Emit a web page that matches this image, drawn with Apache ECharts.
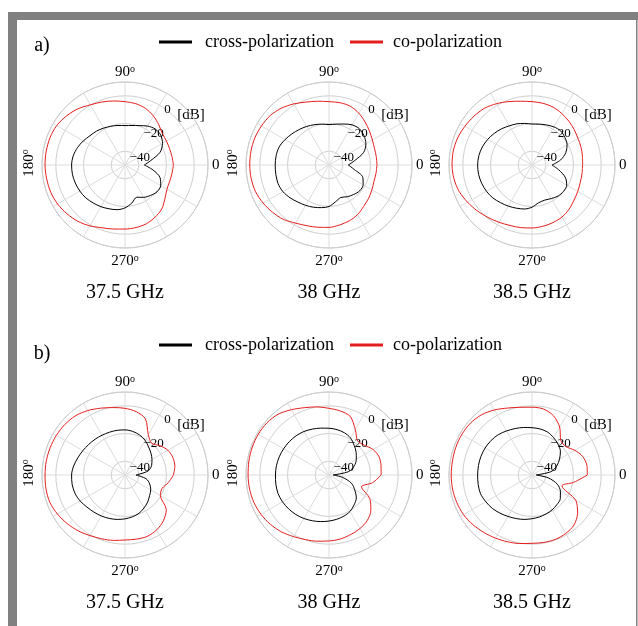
<!DOCTYPE html>
<html>
<head>
<meta charset="utf-8">
<title>Polarization patterns</title>
<script src="https://cdn.jsdelivr.net/npm/echarts@6/dist/echarts.min.js"></script>
</head>
<body style="margin:0;background:#fff">
<div id="main" style="width:638px;height:626px;"></div>
<script type="text/javascript">
// angle in degrees, values in dB
var angles = [0,10,20,30,40,50,60,70,80,90,100,110,120,130,140,150,160,170,180,
              190,200,210,220,230,240,250,260,270,280,290,300,310,320,330,340,350,360];
var freqLabels = ['37.5 GHz', '38 GHz', '38.5 GHz'];
var rowLabels = ['a)', 'b)'];
var ringLabels = {'-40': '\u221240', '-20': '\u221220', '0': '0'};
var angleLabels = {0: '{z|0}', 90: '90{o|o}', 270: '{b|270}{bo|o}'};

// a) row
var crossA1 = [-36,-31,-23,-18.7,-16.3,-16,-17.5,-19.7,-21,-21.5,-21,-20.2,-19.2,-18,-17,-15.2,-13.4,-12,-11.4,
               -11.4,-11.8,-12.3,-13,-14.2,-15.2,-16.3,-17.2,-19,-22,-25.2,-23,-21.3,-19.8,-20.2,-23,-29.5,-36];
var coA1 = [-15,-15.5,-15.7,-15.4,-14.7,-12,-9,-6.5,-5,-4.2,-3,-1.5,0.2,3,5.2,7,7.7,7.8,7.8,
            7.5,7.2,6.3,4.8,3.1,0.8,-1.7,-3,-3.7,-4.1,-4.8,-6.5,-8.6,-12.3,-15,-15.6,-15.5,-15];
var crossA2 = [-36,-31,-23.3,-19.2,-17,-15.8,-16.5,-18.5,-20,-20.8,-20,-19,-17.8,-16.5,-15,-13.3,-11.7,-11.2,-11.1,
               -11,-10.8,-11.5,-13.2,-15,-16.3,-17.5,-18.7,-20,-23,-25,-23.5,-22.2,-21,-21.5,-24,-31.5,-36];
var coA2 = [-15.3,-15.3,-15,-13.8,-11.8,-9.4,-6.8,-4.8,-4.3,-4.2,-3.2,-1.6,1,3.6,5.5,6.4,7.1,7.3,7.3,
            7.1,6.5,5,3.2,1.3,-1.5,-3.3,-4.3,-4.9,-6,-7.1,-8.6,-11,-12.6,-14.2,-15.4,-15.5,-15.3];
var crossA3 = [-35.5,-29,-24,-20.7,-19,-17.8,-18.2,-19.2,-20,-20.4,-19.5,-18.3,-17.3,-15.8,-14.4,-13,-11.8,-11,-10.7,
               -10.8,-11.3,-12,-13,-14.5,-15.7,-16.8,-17.7,-19.5,-22.3,-23,-22,-20.7,-20.3,-21,-24.5,-30.5,-35.5];
var coA3 = [-13.4,-13,-12.3,-11.6,-10.2,-8.6,-7,-5.5,-4.7,-4.2,-3.2,-1.2,1.2,3.5,4.8,6,7.2,7.8,7.8,
            7.3,6,3.8,1.6,-0.5,-2.2,-3.5,-4,-4.5,-5,-5.7,-6.6,-8.3,-10.4,-11.8,-12.9,-13.3,-13.4];

// b) row
var crossB1 = [-42,-33,-29.5,-27.5,-25.5,-23.5,-21,-19.2,-18,-17.4,-17.2,-17.1,-16.8,-16.3,-15.7,-14.8,-13.7,-12.3,-11.4,
               -11.2,-11.5,-12.5,-14,-15,-15.8,-16.6,-17.4,-18.3,-19.3,-20.5,-22.5,-24.5,-26.8,-28.5,-31,-34.5,-42];
var coB1 = [-15,-13.4,-13.2,-14.2,-17,-20,-16.3,-6.8,-3.5,-1.8,-0.5,1.4,3.8,5.8,6.8,7.3,7.6,7.8,7.8,
            8,7.8,6.4,4.6,2.7,0.6,-0.9,-2,-3,-2.9,-2.8,-4.2,-6.8,-11,-20.5,-21.5,-18.2,-15];
var crossB2 = [-47,-35.5,-30.5,-27.2,-24.4,-21.8,-19,-17.5,-16.7,-16.2,-15.6,-14.7,-13.7,-13,-12.5,-12.1,-11.7,-11.4,-11.3,
               -11,-10.8,-11.2,-11.9,-12.7,-13.7,-14.8,-15.8,-16.7,-17.5,-18.4,-19.6,-21.8,-24.2,-28.5,-32.8,-40,-47];
var coB2 = [-12.3,-11.8,-11.5,-13.2,-16.5,-17.8,-12,-5,-3,-1.8,0,1.8,4.5,7.3,8.6,9,9,8.8,8.5,
            8.3,7.8,6.8,5.4,3.6,1.4,-0.3,-1.4,-2.3,-3,-4.2,-5.3,-7,-10.5,-16,-25,-18,-12.3];
var crossB3 = [-47,-36,-31,-27,-23.2,-20.8,-18.8,-17,-16.2,-15.8,-15.1,-14.3,-13.2,-12,-11.3,-10.9,-10.7,-10.7,-10.7,
               -10.5,-10.4,-11.4,-12.5,-14,-15.4,-16.5,-17.4,-18.4,-19.2,-20.1,-20.9,-22,-23.3,-26.3,-30.5,-38,-47];
var coB3 = [-10,-9.7,-11,-14.3,-18,-17.5,-10,-4.5,-1.6,-1,-0.3,1.5,4.3,6.8,8.2,8.6,8.6,8.4,8.4,
            8.3,7.9,7.2,5.8,4.2,2.7,1.4,0.3,-0.6,-0.5,-0.5,-1.2,-2.8,-7,-13.5,-27,-19.4,-10];

var crossSets = [crossA1, crossA2, crossA3, crossB1, crossB2, crossB3];
var coSets = [coA1, coA2, coA3, coB1, coB2, coB3];

var myChart = echarts.init(document.getElementById('main'));

var font = 'Liberation Serif';
var cx = [125, 329, 532];
var cy = [165, 475];
var R = 83;
var red = '#e41e1e';
var gridColor = '#cfcfcf';
var none = 'rgba(0,0,0,0)';

var polar = [], angleAxis = [], radiusAxis = [], series = [];
var graphic = [
    // grey frame
    {type: 'rect', shape: {x: 8, y: 12, width: 630, height: 8}, style: {fill: '#808080'}},
    {type: 'rect', shape: {x: 8, y: 12, width: 9, height: 614}, style: {fill: '#808080'}},
    {type: 'rect', shape: {x: 636, y: 20, width: 1.5, height: 606}, style: {fill: '#808080'}}
];

for (var i = 0; i < 6; i++) {
    var x = cx[i % 3], y = cy[Math.floor(i / 3)];

    // data polar
    polar.push({center: [x, y], radius: R});
    angleAxis.push({
        polarIndex: i, type: 'value', min: 0, max: 360, interval: 30,
        startAngle: 0, clockwise: false,
        axisLine: {lineStyle: {color: gridColor, width: 1}},
        axisTick: {show: false},
        splitLine: {lineStyle: {color: '#dddddd', width: 1}},
        axisLabel: {
            margin: 1, color: '#000', fontFamily: font, fontSize: 15,
            formatter: function (v) { return angleLabels[v] || ''; },
            rich: {
                o: {fontSize: 10, fontFamily: font, color: '#000', padding: [0, 0, 7, 0]},
                z: {fontSize: 15, fontFamily: font, color: '#000', padding: [0, 0, 0, 3]},
                b: {fontSize: 15, fontFamily: font, color: '#000', padding: [5, 0, 0, 0]},
                bo: {fontSize: 10, fontFamily: font, color: '#000', padding: [0, 0, 2, 0]}
            }
        }
    });
    radiusAxis.push({
        polarIndex: i, type: 'value', min: -50, max: 10, interval: 10,
        axisLine: {show: false}, axisTick: {show: false}, axisLabel: {show: false},
        splitLine: {lineStyle: {width: 1, color: [none, gridColor, none, gridColor, none, gridColor, gridColor]}}
    });

    series.push({
        name: 'co-polarization', type: 'line', coordinateSystem: 'polar', polarIndex: i,
        data: angles.map(function (a, k) { return [coSets[i][k], a]; }),
        showSymbol: false, smooth: 0.3, silent: true,
        lineStyle: {color: red, width: 1}, itemStyle: {color: red}
    });
    series.push({
        name: 'cross-polarization', type: 'line', coordinateSystem: 'polar', polarIndex: i,
        data: angles.map(function (a, k) { return [crossSets[i][k], a]; }),
        showSymbol: false, smooth: 0.3, silent: true,
        lineStyle: {color: '#000', width: 1}, itemStyle: {color: '#000'}
    });

    // labels below each plot, 180 label, [dB]
    graphic.push({type: 'text', x: x, y: y + 128,
        style: {text: freqLabels[i % 3], fontFamily: font, fontSize: 20, fill: '#000', align: 'center', verticalAlign: 'middle'}});
    graphic.push({type: 'text', x: x - 96, y: y - 2, rotation: Math.PI / 2,
        style: {text: '180{o|o}', fontFamily: font, fontSize: 15, fill: '#000', align: 'center', verticalAlign: 'middle',
            rich: {o: {fontSize: 10, fontFamily: font, fill: '#000', padding: [0, 0, 7, 0]}}}});
    graphic.push({type: 'text', x: x + 66, y: y - 50,
        style: {text: '[dB]', fontFamily: font, fontSize: 15, fill: '#000', align: 'center', verticalAlign: 'middle'}});
}

// overlay polars carrying the dB ring labels along 60 degrees
for (var j = 0; j < 6; j++) {
    polar.push({center: [cx[j % 3], cy[Math.floor(j / 3)]], radius: R});
    angleAxis.push({polarIndex: 6 + j, type: 'value', min: 0, max: 360, startAngle: 60, clockwise: false, show: false});
    radiusAxis.push({
        polarIndex: 6 + j, type: 'value', min: -50, max: 10, interval: 10,
        axisLine: {show: false}, axisTick: {show: false}, splitLine: {show: false},
        axisLabel: {
            margin: -9, align: 'center', verticalAlign: 'middle',
            color: '#000', fontFamily: font, fontSize: 13,
            formatter: function (v) { return ringLabels[v] || ''; }
        }
    });
}

for (var r = 0; r < 2; r++) {
    graphic.push({type: 'text', x: 42, y: 46 + r * 308,
        style: {text: rowLabels[r], fontFamily: font, fontSize: 20, fill: '#000', align: 'center', verticalAlign: 'middle'}});
}

function legendAt(name, left, top, pad) {
    return {
        data: [name], left: left, top: top, padding: 0, icon: 'rect', itemWidth: 33, itemHeight: 3,
        selectedMode: false,
        textStyle: {fontFamily: font, fontSize: 18, color: '#000', padding: [0, 0, 0, pad]}
    };
}

var option = {
    animation: false,
    backgroundColor: '#fff',
    textStyle: {fontFamily: font},
    legend: [
        legendAt('cross-polarization', 159, 33, 8),
        legendAt('co-polarization', 350, 33, 5),
        legendAt('cross-polarization', 159, 336, 8),
        legendAt('co-polarization', 350, 336, 5)
    ],
    polar: polar,
    angleAxis: angleAxis,
    radiusAxis: radiusAxis,
    series: series,
    graphic: graphic
};
myChart.setOption(option);
</script>
</body>
</html>
